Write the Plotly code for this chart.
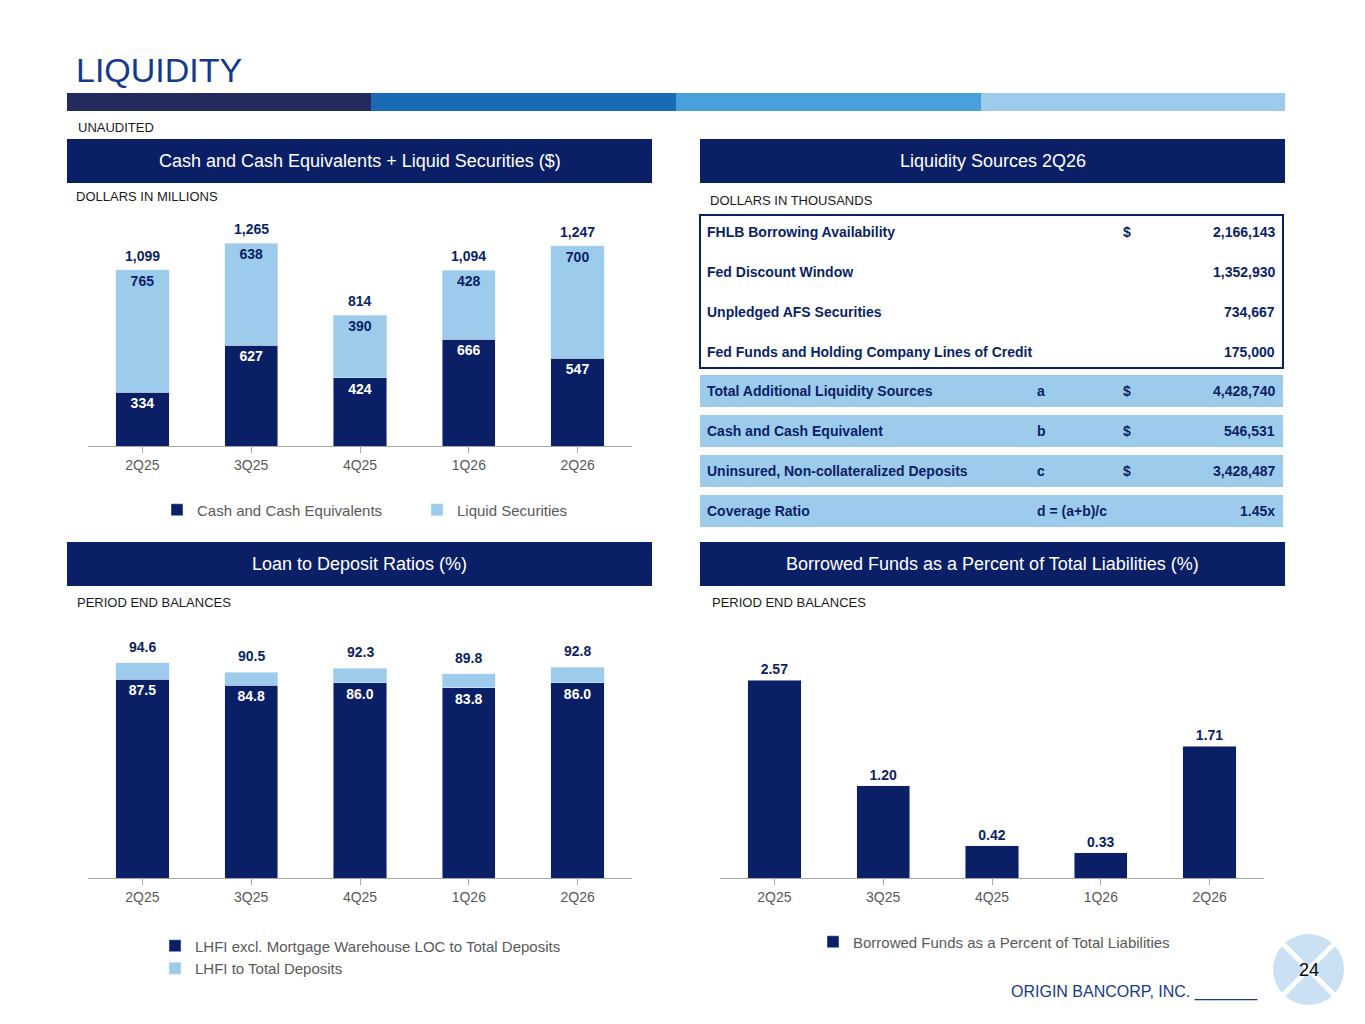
import plotly.graph_objects as go

W, H = 1365, 1024
NAVY = "#0b1f66"
LIGHT = "#9dcbeb"
GRAY = "#595959"
FONT = "Liberation Sans, Arial, sans-serif"

quarters = ["2Q25", "3Q25", "4Q25", "1Q26", "2Q26"]

# cash and liquid securities ($M)
cash_eq = [334, 627, 424, 666, 547]
liquid_sec = [765, 638, 390, 428, 700]
cash_totals = [1099, 1265, 814, 1094, 1247]

# loan to deposit ratios (%)
lhfi_excl = [87.5, 84.8, 86.0, 83.8, 86.0]
lhfi_total = [94.6, 90.5, 92.3, 89.8, 92.8]

# borrowed funds as percent of liabilities (%)
borrowed = [2.57, 1.20, 0.42, 0.33, 1.71]

# liquidity sources table
table_rows = [
    ("FHLB Borrowing Availability", "", "$", "2,166,143"),
    ("Fed Discount Window", "", "", "1,352,930"),
    ("Unpledged AFS Securities", "", "", "734,667"),
    ("Fed Funds and Holding Company Lines of Credit", "", "", "175,000"),
]
summary_rows = [
    ("Total Additional Liquidity Sources", "a", "$", "4,428,740"),
    ("Cash and Cash Equivalent", "b", "$", "546,531"),
    ("Uninsured, Non-collateralized Deposits", "c", "$", "3,428,487"),
    ("Coverage Ratio", "d = (a+b)/c", "", "1.45x"),
]


def px(x):
    return x / W


def py(y):
    return 1 - y / H


fig = go.Figure()

# chart 1: stacked cash + securities
fig.add_trace(go.Bar(
    x=quarters, y=cash_eq, name="Cash and Cash Equivalents", marker_color=NAVY,
    text=[f"<b>{v}</b>" for v in cash_eq], textposition="inside", insidetextanchor="end",
    textfont=dict(color="white", size=14, family=FONT), xaxis="x", yaxis="y",
    legend="legend", width=0.49,
))
fig.add_trace(go.Bar(
    x=quarters, y=liquid_sec, name="Liquid Securities", marker_color=LIGHT,
    text=[f"<b>{v}</b>" for v in liquid_sec], textposition="inside", insidetextanchor="end",
    textfont=dict(color=NAVY, size=14, family=FONT), xaxis="x", yaxis="y",
    legend="legend", width=0.49,
))
for q, t in zip(quarters, cash_totals):
    fig.add_annotation(x=q, y=t, xref="x", yref="y", text=f"<b>{t:,}</b>", showarrow=False,
                       yanchor="bottom", yshift=4, font=dict(color=NAVY, size=14))

# chart 3: loan to deposit
fig.add_trace(go.Bar(
    x=quarters, y=lhfi_excl, name="LHFI excl. Mortgage Warehouse LOC to Total Deposits",
    marker_color=NAVY, text=[f"<b>{v:.1f}</b>" for v in lhfi_excl], textposition="inside",
    insidetextanchor="end", textfont=dict(color="white", size=14, family=FONT),
    xaxis="x2", yaxis="y2", legend="legend2", width=0.49,
))
fig.add_trace(go.Bar(
    x=quarters, y=[t - e for t, e in zip(lhfi_total, lhfi_excl)], name="LHFI to Total Deposits",
    marker_color=LIGHT, xaxis="x2", yaxis="y2", legend="legend2", width=0.49,
))
for q, t in zip(quarters, lhfi_total):
    fig.add_annotation(x=q, y=t, xref="x2", yref="y2", text=f"<b>{t:.1f}</b>", showarrow=False,
                       yanchor="bottom", yshift=6, font=dict(color=NAVY, size=14))

# chart 4: borrowed funds
fig.add_trace(go.Bar(
    x=quarters, y=borrowed, name="Borrowed Funds as a Percent of Total Liabilities",
    marker_color=NAVY, text=[f"<b>{v:.2f}</b>" for v in borrowed], textposition="outside",
    textfont=dict(color=NAVY, size=14, family=FONT), cliponaxis=False,
    xaxis="x3", yaxis="y3", legend="legend3", width=0.49,
))

xax = dict(showgrid=False, showline=True, linecolor="#a6a6a6", ticks="outside",
           tickcolor="#a6a6a6", ticklen=6, tickfont=dict(color=GRAY, size=14), fixedrange=True)
yax = dict(visible=False, fixedrange=True)

legend_common = dict(orientation="h", font=dict(color=GRAY, size=15), bgcolor="rgba(0,0,0,0)",
                     itemwidth=30, xanchor="left", yanchor="middle", traceorder="normal")

fig.update_layout(
    width=W, height=H, margin=dict(l=0, r=0, t=0, b=0),
    paper_bgcolor="white", plot_bgcolor="white", font=dict(family=FONT),
    barmode="stack", bargap=0.5,
    xaxis=dict(xax, domain=[px(88), px(632)], anchor="y"),
    yaxis=dict(yax, domain=[py(446), py(200)], range=[0, 1533]),
    xaxis2=dict(xax, domain=[px(88), px(632)], anchor="y2"),
    yaxis2=dict(yax, domain=[py(878), py(620)], range=[0, 113.5]),
    xaxis3=dict(xax, domain=[px(720), px(1264)], anchor="y3"),
    yaxis3=dict(yax, domain=[py(878), py(620)], range=[0, 3.35]),
    legend=dict(legend_common, x=px(157), y=py(510), entrywidth=215),
    legend2=dict(legend_common, x=px(155), y=py(957), orientation="v", tracegroupgap=0),
    legend3=dict(legend_common, x=px(813), y=py(942)),
)

shapes = []
annots = []

# top stripe
for x0, x1, c in [(67, 371, "#232a5c"), (371, 676, "#1a6bb5"), (676, 981, "#4aa0da"), (981, 1285, "#9ccbeb")]:
    shapes.append(dict(type="rect", xref="paper", yref="paper", x0=px(x0), x1=px(x1),
                       y0=py(111), y1=py(93), fillcolor=c, line_width=0, layer="below"))

annots.append(dict(x=px(74), y=py(70), text="LIQUIDITY", font=dict(size=34, color="#153a8c")))
annots.append(dict(x=px(76), y=py(127), text="UNAUDITED", font=dict(size=13, color="#1a1a1a")))

# section headers
for x0, x1, y0, y1, txt in [
    (67, 652, 139, 183, "Cash and Cash Equivalents + Liquid Securities ($)"),
    (700, 1285, 139, 183, "Liquidity Sources 2Q26"),
    (67, 652, 542, 586, "Loan to Deposit Ratios (%)"),
    (700, 1285, 542, 586, "Borrowed Funds as a Percent of Total Liabilities (%)"),
]:
    shapes.append(dict(type="rect", xref="paper", yref="paper", x0=px(x0), x1=px(x1),
                       y0=py(y1), y1=py(y0), fillcolor=NAVY, line_width=0, layer="below"))
    annots.append(dict(x=px((x0 + x1) / 2), y=py((y0 + y1) / 2), text=txt, xanchor="center",
                       font=dict(size=18, color="white")))

for x, y, txt in [(74, 196, "DOLLARS IN MILLIONS"), (708, 200, "DOLLARS IN THOUSANDS"),
                  (75, 602, "PERIOD END BALANCES"), (710, 602, "PERIOD END BALANCES")]:
    annots.append(dict(x=px(x), y=py(y), text=txt, font=dict(size=13, color="#1a1a1a")))

# table
shapes.append(dict(type="rect", xref="paper", yref="paper", x0=px(700), x1=px(1283),
                   y0=py(368), y1=py(215), line=dict(color=NAVY, width=2), layer="below"))


def table_row(y, row):
    label, letter, dollar, value = row
    f = dict(size=14, color=NAVY)
    annots.append(dict(x=px(705), y=py(y), text=f"<b>{label}</b>", font=f))
    if letter:
        annots.append(dict(x=px(1035), y=py(y), text=f"<b>{letter}</b>", font=f))
    if dollar:
        annots.append(dict(x=px(1121), y=py(y), text=f"<b>{dollar}</b>", font=f))
    annots.append(dict(x=px(1277), y=py(y), text=f"<b>{value}</b>", font=f, xanchor="right"))


for i, row in enumerate(table_rows):
    table_row(232 + 40 * i, row)
for i, row in enumerate(summary_rows):
    y0 = 375 + 40 * i
    shapes.append(dict(type="rect", xref="paper", yref="paper", x0=px(700), x1=px(1283),
                       y0=py(y0 + 32), y1=py(y0), fillcolor=LIGHT, line_width=0, layer="below"))
    table_row(y0 + 16, row)

# footer
annots.append(dict(x=px(1009), y=py(992), text="ORIGIN BANCORP, INC. _______",
                   font=dict(size=16, color="#153a8c")))
shapes.append(dict(type="circle", xref="paper", yref="paper", x0=px(1273), x1=px(1344),
                   y0=py(1005), y1=py(934), fillcolor="#c9e1f3", line_width=0, layer="below"))
for x0, y0, x1, y1 in [(1283, 944, 1334, 995), (1283, 995, 1334, 944)]:
    shapes.append(dict(type="line", xref="paper", yref="paper", x0=px(x0), x1=px(x1),
                       y0=py(y0), y1=py(y1), line=dict(color="white", width=5), layer="below"))
annots.append(dict(x=px(1309), y=py(970), text="24", xanchor="center", font=dict(size=18, color="black")))

for a in annots:
    a.setdefault("xref", "paper")
    a.setdefault("yref", "paper")
    a.setdefault("showarrow", False)
    a.setdefault("xanchor", "left")
    a.setdefault("yanchor", "middle")
    fig.add_annotation(**a)
for s in shapes:
    fig.add_shape(**s)

fig.write_html("out.html", config={"displayModeBar": False},
               post_script="document.body.style.margin='0';document.body.style.overflow='hidden';")
